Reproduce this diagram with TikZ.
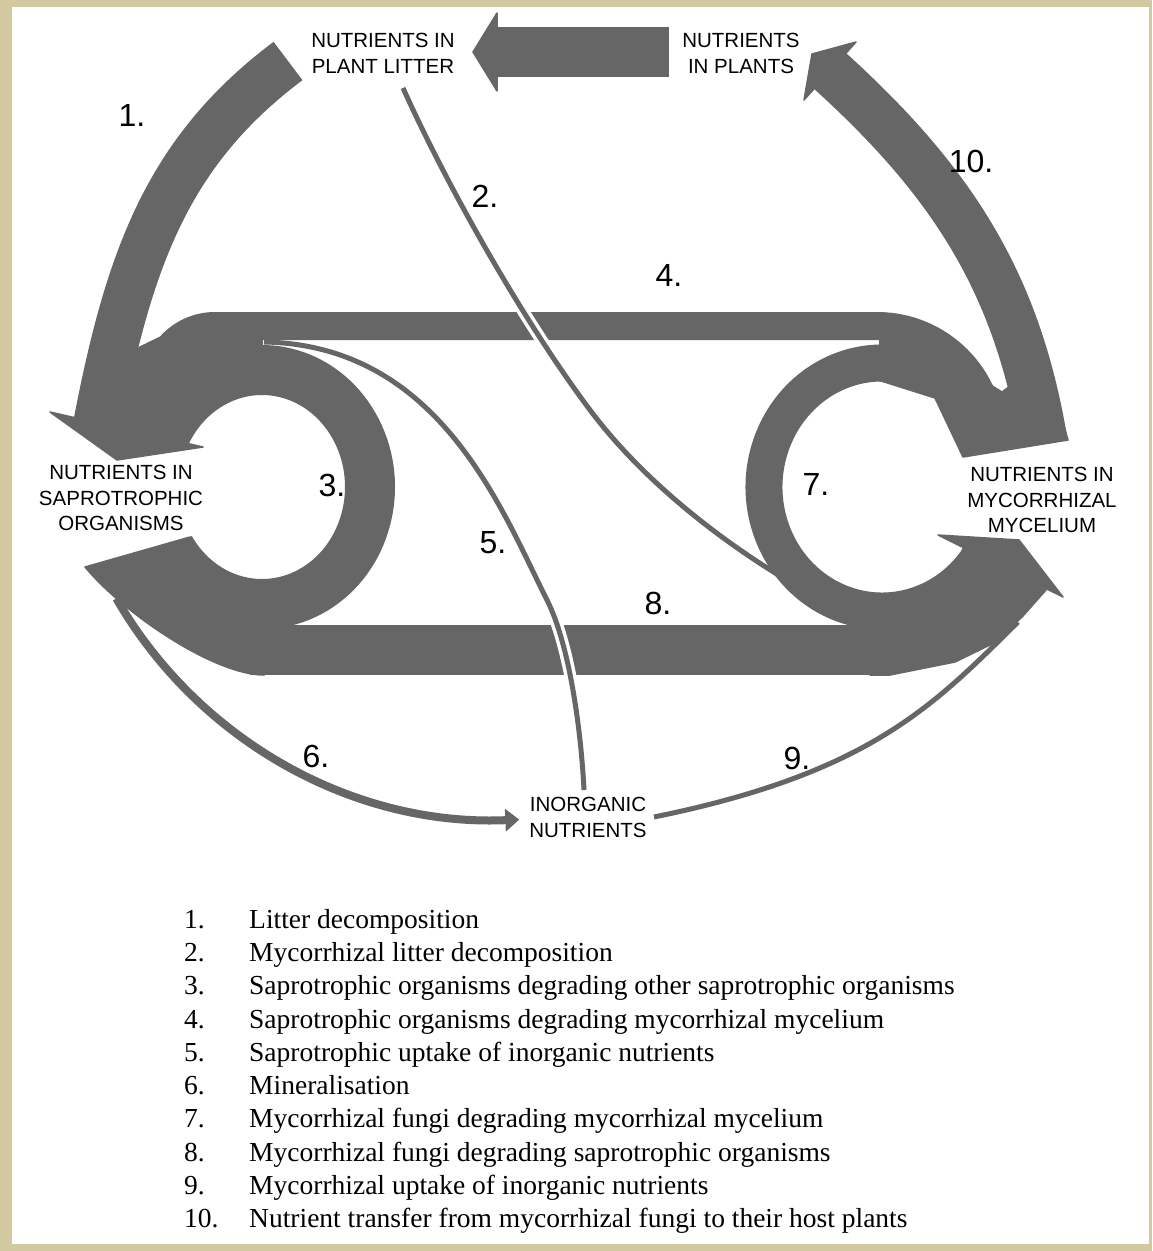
\documentclass[tikz,border=0pt]{standalone}
\usepackage{fontspec}
\setmainfont{Liberation Serif}
\setsansfont{Liberation Sans}
\usetikzlibrary{arrows.meta}
\definecolor{flowgray}{RGB}{102,102,102}
\definecolor{framecol}{RGB}{211,201,161}

\begin{document}
\begin{tikzpicture}
[x=1pt,y=-1pt,
flow/.style={draw=flowgray,line width=#1},
thin flow/.style={draw=flowgray,line width=#1},
blob/.style={fill=flowgray,draw=flowgray,line width=1.5pt,line join=round},
crossing gap/.style={draw=white,line width=12pt},
pool/.style={font=\sffamily\fontsize{20.5pt}{25.5pt}\selectfont,align=center,inner sep=0pt},
num label/.style={font=\sffamily\fontsize{32pt}{36pt}\selectfont,inner sep=0pt},
legend entry/.style={font=\fontsize{27.5pt}{33pt}\selectfont,anchor=base west,inner sep=0pt}]

% frame
\useasboundingbox (0,0) rectangle (1152,1251);
\fill[framecol] (0,0) rectangle (1152,1251);
\fill[white] (12,7) rectangle (1149,1244);

% pools
\node[pool] (litter) at (383,53.5) {NUTRIENTS IN\\PLANT LITTER};
\node[pool] (plants) at (741,53.5) {NUTRIENTS\\IN PLANTS};
\node[pool] (sapro) at (121,498) {NUTRIENTS IN\\SAPROTROPHIC\\ORGANISMS};
\node[pool] (mycor) at (1042,500) {NUTRIENTS IN\\MYCORRHIZAL\\MYCELIUM};
\node[pool] (inorg) at (588,817.5) {INORGANIC\\NUTRIENTS};

% loop centres and ends of the thin flows
\coordinate (c3) at (262,487);
\coordinate (c7) at (882,487);
\coordinate (c6) at (500,377);
\coordinate (l2a) at (403,88);
\coordinate (l2b) at (870,624);
\coordinate (l5a) at (584,790);
\coordinate (l5b) at (264,342);
\coordinate (l9a) at (654,817);
\coordinate (l9b) at (1018,622);

% plants -> litter
\draw[flow=50pt] (669,52) -- (495,52);
\fill[blob] (497,13) -- (473,52) -- (497,91) -- cycle;

% 1, 4, 3, 7, 8, 10
\draw[flow=48pt] (288,61) .. controls (168,151) and (129,258) .. (97,425);
\draw[flow=28pt] (991,440) arc[start angle=0,end angle=-90,radius=114]
  -- (215,326) arc[start angle=-90,end angle=-180,radius=60] -- (155,420);
\draw[flow=50pt] ([shift={(148:108 and 117)}]c3)
  arc[start angle=148,end angle=-152,x radius=108,y radius=117];
\draw[flow=37pt] ([shift={(-20:118 and 124)}]c7)
  arc[start angle=-20,end angle=-325,x radius=118,y radius=124];
\draw[flow=50pt] (250,650) -- (890,650);
\draw[flow=48pt] (1044,444) .. controls (1018,286) and (955,184) .. (829,70);

% where the bands meet
\filldraw[blob] (262,330) -- (200,318) -- (140,347) -- (100,380) -- (92,421.5)
  -- (188,443.5) -- (200,400) -- (262,352) -- cycle;
\filldraw[blob] (85,567) -- (190,537) -- (205,600) -- (264,626) -- (264,675)
  .. controls (215,675) and (125,615) .. (85,567) -- cycle;
\filldraw[blob] (963,457) -- (1068,440) -- (1045,360) -- (1002,392) -- (950,360)
  -- (915,345) -- (880,339) -- (878,380) -- (935,398) -- cycle;
\filldraw[blob] (870,625) -- (940,604) -- (963.5,547.5) -- (1046,590) -- (1023,616)
  -- (996,642) -- (955,662) -- (890,675) -- (870,675) -- cycle;

% heads
\filldraw[blob] (50,412) -- (117,460) -- (203,447) -- cycle;
\filldraw[blob] (804,100) -- (812,54) -- (856,42) -- cycle;
\filldraw[blob] (938,535) -- (1019,540) -- (1063,597) -- cycle;

% 2
\draw[crossing gap] (l2a) .. controls (448,188) and (524,322) .. (590,410);
\draw[thin flow=5pt] (l2a) .. controls (448,188) and (524,322) .. (590,410)
  .. controls (662,506) and (779,583) .. (l2b);
% 5
\draw[crossing gap] (l5a) .. controls (581,730) and (569.5,644.5) .. (547,600);
\draw[thin flow=5pt] (l5a) .. controls (581,730) and (569.5,644.5) .. (547,600)
  .. controls (502,511) and (440,345) .. (l5b);
% 6
\draw[thin flow=8pt,-{Triangle[length=14pt,width=22pt]}] ([shift={(150:443)}]c6)
  arc[start angle=150,end angle=87.5,radius=443];
% 9
\draw[thin flow=5pt] (l9a) .. controls (870,773) and (933,706) .. (l9b);

% numbers
\foreach \n/\px/\py in {1/132/115,2/485/196,3/332/485,4/669/275,5/493/543,
  6/316/756,7/816/484,8/658/603,9/797/758,10/971/161}
  \node[num label] (n\n) at (\px,\py) {\n.};

% legend
\foreach \txt [count=\i] in {Litter decomposition,
  Mycorrhizal litter decomposition,
  Saprotrophic organisms degrading other saprotrophic organisms,
  Saprotrophic organisms degrading mycorrhizal mycelium,
  Saprotrophic uptake of inorganic nutrients,
  Mineralisation,
  Mycorrhizal fungi degrading mycorrhizal mycelium,
  Mycorrhizal fungi degrading saprotrophic organisms,
  Mycorrhizal uptake of inorganic nutrients,
  Nutrient transfer from mycorrhizal fungi to their host plants}{
  \node[legend entry] (k\i) at (184,{928+33.33*(\i-1)}) {\i.};
  \node[legend entry] (d\i) at (249,{928+33.33*(\i-1)}) {\txt};
}
\end{tikzpicture}
\end{document}
